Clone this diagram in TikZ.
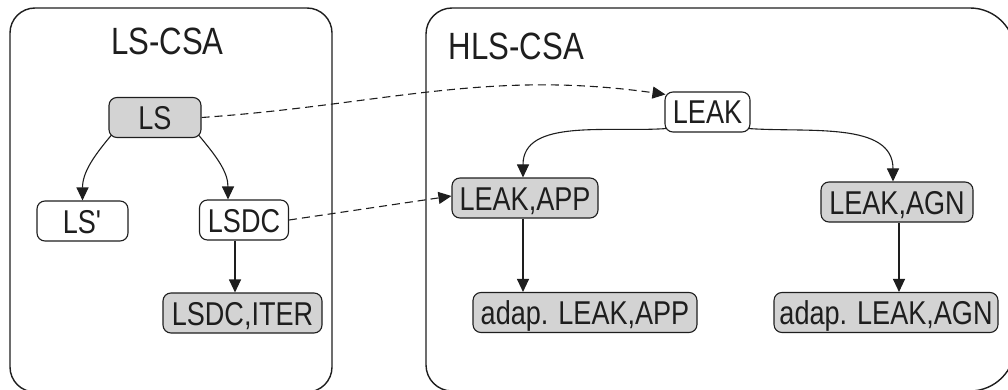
\documentclass[tikz,border=0pt]{standalone}
\usepackage{fontspec}
\setmainfont[FakeStretch=0.82]{Liberation Sans}
\usetikzlibrary{arrows.meta,calc}
\definecolor{ink}{HTML}{1E1E1E}
\definecolor{boxgrey}{HTML}{D3D3D3}
\tikzset{
  box/.style={draw=ink, line width=1.1pt, rounded corners=8pt, minimum height=40pt,
    inner sep=0pt, text height=24pt, text depth=0pt, text=ink,
    font=\fontsize{33}{36}\selectfont},
  greybox/.style={box, fill=boxgrey},
  plainbox/.style={box, fill=white},
  frame/.style={draw=ink, line width=1.4pt},
  link/.style={draw=ink, line width=1.1pt, -{Triangle[length=13pt,width=12pt]}},
  reflink/.style={link, dash pattern=on 8pt off 5pt},
  title/.style={inner sep=0pt, text height=27pt, text depth=0pt, text=ink,
    font=\fontsize{38}{40}\selectfont},
}
\begin{document}
\begin{tikzpicture}[x=1pt, y=1pt]
  \useasboundingbox (0,0) rectangle (1008,-390);
  \clip (0,0) rectangle (1008,-390);

  % containers
  \draw[frame, rounded corners=25pt] (10,-8) rectangle (332,-392);
  \draw[frame] (426,-34) arc[start angle=180, end angle=90, radius=26]
    -- (970,-8) arc[start angle=90, end angle=0, radius=45]
    -- (1015,-346) arc[start angle=0, end angle=-90, radius=45]
    -- (452,-391) arc[start angle=-90, end angle=-180, radius=26] -- cycle;

  \node[title] (t1) at (167.5,-41) {LS-CSA};
  \node[title] (t2) at (516.5,-46) {HLS-CSA};

  % left tree
  \node[greybox, minimum width=92pt] (ls) at (155,-117.5) {LS};
  \node[plainbox, minimum width=91pt] (lsp) at (82.5,-221) {LS\textquotesingle};
  \node[plainbox, minimum width=89pt] (lsdc) at (244,-220) {LSDC};
  \node[greybox, minimum width=159pt] (lsdci) at (242.5,-313) {LSDC,ITER};

  % right tree
  \node[plainbox, minimum width=85pt] (leak) at (707.5,-112) {LEAK};
  \node[greybox, minimum width=146pt] (lapp) at (525,-198) {LEAK,APP};
  \node[greybox, minimum width=152pt] (lagn) at (897,-202) {LEAK,AGN};
  \node[greybox, minimum width=224pt] (alapp) at (585,-312.5) {adap. LEAK,APP};
  \node[greybox, minimum width=224pt] (alagn) at (886,-312.5) {adap. LEAK,AGN};

  % start points of the vertical edges
  \coordinate (lsdcout) at ($(lsdc.south)+(-9,0)$);
  \coordinate (lappout) at ($(lapp.south)+(-2,0)$);
  \coordinate (lagnout) at ($(lagn.south)+(2,0)$);

  % tree edges
  \draw[link] ($(ls.south west)+(3,3)$) to[out=-130, in=90] (lsp.north);
  \draw[link] ($(ls.south east)+(-3,3)$) to[out=-50, in=90] ($(lsdc.north)+(-16,0)$);
  \draw[link] (lsdcout) -- (lsdcout |- lsdci.north);
  \draw[link] ($(leak.south west)+(2,4)$) to[out=184, in=90] ($(lapp.north)+(-2,0)$);
  \draw[link] ($(leak.south east)+(-2,4)$) to[out=-4, in=90] ($(lagn.north)+(-4,0)$);
  \draw[link] (lappout) -- (lappout |- alapp.north);
  \draw[link] (lagnout) -- (lagnout |- alagn.north);

  % correspondences between the two levels
  \draw[reflink] (ls.east) to[out=4, in=172] ($(leak.north west)+(1,-3)$);
  \draw[reflink] (lsdc.east) -- ($(lapp.west)+(0,2)$);
\end{tikzpicture}
\end{document}
